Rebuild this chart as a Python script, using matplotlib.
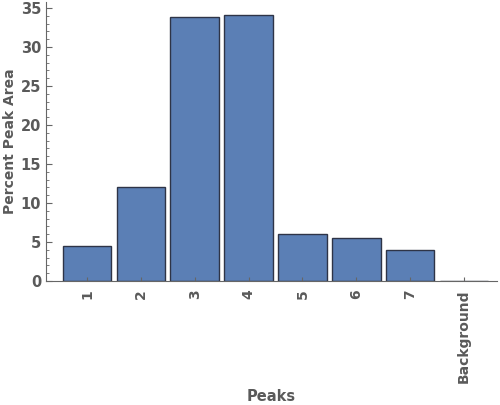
import matplotlib
matplotlib.use("Agg")
import matplotlib.pyplot as plt
from matplotlib.ticker import MultipleLocator

peaks = ["1", "2", "3", "4", "5", "6", "7", "Background"]
percent_area = [4.5, 12.05, 33.85, 34.1, 6.0, 5.5, 3.97, 0.0]

text_gray = "#5a5a5a"
bar_blue = "#5b7fb5"

fig = plt.figure(figsize=(5, 4.05), dpi=100)
ax = fig.add_axes([0.092, 0.306, 0.902, 0.689])

pos = list(range(1, len(peaks) + 1))
ax.bar(pos, percent_area, width=0.9, color=bar_blue,
       edgecolor="#2e3447", linewidth=1.0)

ax.set_xlim(0.24, 8.61)
ax.set_ylim(0, 35.77)
ax.set_xticks(pos)
ax.set_xticklabels(peaks, rotation=90, fontsize=10, fontweight="bold",
                   color=text_gray)
ax.yaxis.set_major_locator(MultipleLocator(5))
ax.yaxis.set_minor_locator(MultipleLocator(1))
for lab in ax.get_yticklabels():
    lab.set_fontsize(10.5)
    lab.set_fontweight("bold")
    lab.set_color(text_gray)

ax.tick_params(axis="both", which="both", direction="in", color="#666666")
ax.tick_params(axis="y", which="major", length=4)
ax.tick_params(axis="y", which="minor", length=2)
ax.tick_params(axis="x", length=3, pad=6)

for side in ["top", "right"]:
    ax.spines[side].set_visible(False)
for side in ["left", "bottom"]:
    ax.spines[side].set_color("#666666")

ax.set_ylabel("Percent Peak Area", fontsize=10, fontweight="bold",
              color=text_gray)
ax.yaxis.set_label_coords(-0.064, 0.5)
ax.set_xlabel("Peaks", fontsize=10.5, fontweight="bold", color=text_gray)
ax.xaxis.set_label_coords(0.5, -0.385)

fig.savefig("out.png", dpi=100)
